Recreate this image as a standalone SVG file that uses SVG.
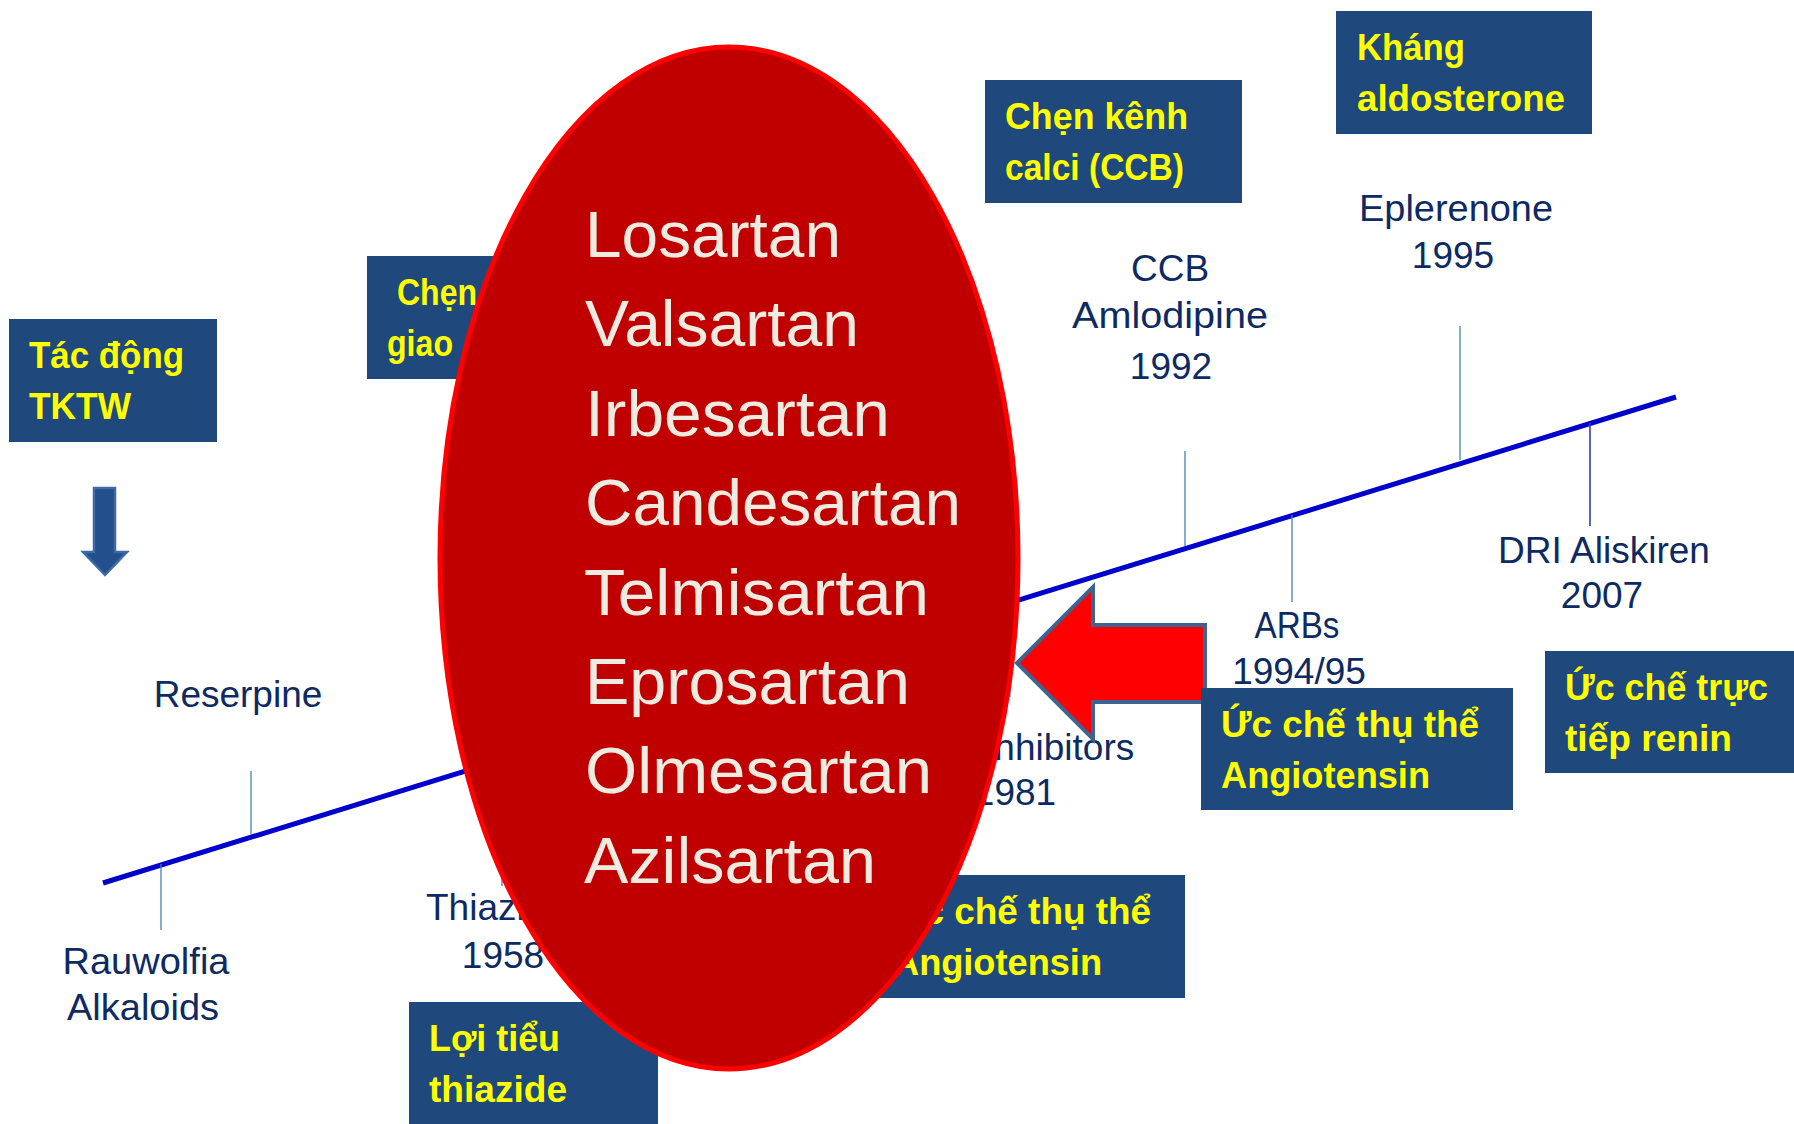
<svg xmlns="http://www.w3.org/2000/svg" width="1794" height="1124" viewBox="0 0 1794 1124">
<style>
.bx{fill:#1F497D}
.bt{font-family:"Liberation Sans Narrow","Liberation Sans",Arial,sans-serif;font-weight:bold;font-size:36px;fill:#FFFF00}
.lt{font-family:"Liberation Sans",Arial,sans-serif;font-size:37px;fill:#0E2A63;text-anchor:middle}
.el{font-family:"Liberation Sans",Arial,sans-serif;font-size:65px;fill:#EEECE1}
.tk{stroke:#4A7EBB;stroke-width:1.3}
</style>
<rect width="1794" height="1124" fill="#FFFFFF"/>

<g id="connectors">
  <line x1="103" y1="883" x2="1676" y2="397" stroke="#0000CC" stroke-width="5"/>
  <line class="tk" x1="161" y1="864" x2="161" y2="930"/>
  <line class="tk" x1="251" y1="771" x2="251" y2="834"/>
  <line class="tk" x1="502" y1="760" x2="502" y2="886"/>
  <line class="tk" x1="1010" y1="602" x2="1010" y2="697"/>
  <line class="tk" x1="1185" y1="451" x2="1185" y2="546"/>
  <line class="tk" x1="1292" y1="515" x2="1292" y2="602"/>
  <line class="tk" x1="1460" y1="326" x2="1460" y2="460"/>
  <line x1="1590" y1="423" x2="1590" y2="526" stroke="#3040A0" stroke-width="1.6"/>
  <polygon id="down-arrow" points="94,488 115,488 115,552 127,552 105,575 83,552 94,552" fill="#23508C" stroke="#3F6AA6" stroke-width="2.5"/>
</g>

<g id="labels">
  <g id="reserpine"><text class="lt" x="238" y="707">Reserpine</text></g>
  <g id="rauwolfia"><text class="lt" x="146" y="974" textLength="167" lengthAdjust="spacingAndGlyphs">Rauwolfia</text><text class="lt" x="143" y="1020" textLength="152" lengthAdjust="spacingAndGlyphs">Alkaloids</text></g>
  <g id="thiazide"><text class="lt" x="426" y="920" style="text-anchor:start">Thiazide</text><text class="lt" x="503" y="968">1958</text></g>
  <g id="ace"><text class="lt" x="1017" y="760">ACE inhibitors</text><text class="lt" x="1015" y="805">1981</text></g>
  <g id="ccb"><text class="lt" x="1170" y="281">CCB</text><text class="lt" x="1170" y="328" textLength="196" lengthAdjust="spacingAndGlyphs">Amlodipine</text><text class="lt" x="1171" y="379">1992</text></g>
  <g id="eplerenone"><text class="lt" x="1456" y="221" textLength="194" lengthAdjust="spacingAndGlyphs">Eplerenone</text><text class="lt" x="1453" y="268">1995</text></g>
  <g id="arbs"><text class="lt" x="1297" y="638" textLength="85" lengthAdjust="spacingAndGlyphs">ARBs</text><text class="lt" x="1299" y="684">1994/95</text></g>
  <g id="dri"><text class="lt" x="1604" y="563">DRI Aliskiren</text><text class="lt" x="1602" y="608">2007</text></g>
</g>

<g id="box-tktw"><rect class="bx" x="9" y="319" width="208" height="123"/>
  <text class="bt" x="29" y="368" textLength="155" lengthAdjust="spacingAndGlyphs">Tác động</text>
  <text class="bt" x="29" y="419" textLength="102" lengthAdjust="spacingAndGlyphs">TKTW</text></g>
<g id="box-chen-giao"><rect class="bx" x="367" y="256" width="250" height="123"/>
  <text class="bt" x="397" y="305" textLength="80" lengthAdjust="spacingAndGlyphs">Chẹn</text>
  <text class="bt" x="387" y="356" textLength="66" lengthAdjust="spacingAndGlyphs">giao</text></g>
<g id="box-ccb"><rect class="bx" x="985" y="80" width="257" height="123"/>
  <text class="bt" x="1005" y="129" textLength="183" lengthAdjust="spacingAndGlyphs">Chẹn kênh</text>
  <text class="bt" x="1005" y="180" textLength="179" lengthAdjust="spacingAndGlyphs">calci (CCB)</text></g>
<g id="box-aldosterone"><rect class="bx" x="1336" y="11" width="256" height="123"/>
  <text class="bt" x="1357" y="60" textLength="108" lengthAdjust="spacingAndGlyphs">Kháng</text>
  <text class="bt" x="1357" y="111" textLength="208" lengthAdjust="spacingAndGlyphs">aldosterone</text></g>
<g id="box-renin"><rect class="bx" x="1545" y="651" width="249" height="122"/>
  <text class="bt" x="1565" y="700" textLength="203" lengthAdjust="spacingAndGlyphs">Ức chế trực</text>
  <text class="bt" x="1565" y="751" textLength="167" lengthAdjust="spacingAndGlyphs">tiếp renin</text></g>
<g id="box-arb-bottom"><rect class="bx" x="872" y="875" width="313" height="123"/>
  <text class="bt" x="893" y="924" textLength="258" lengthAdjust="spacingAndGlyphs">Ức chế thụ thể</text>
  <text class="bt" x="893" y="975" textLength="209" lengthAdjust="spacingAndGlyphs">Angiotensin</text></g>
<g id="box-thiazide"><rect class="bx" x="409" y="1002" width="249" height="122"/>
  <text class="bt" x="429" y="1051" textLength="131" lengthAdjust="spacingAndGlyphs">Lợi tiểu</text>
  <text class="bt" x="429" y="1102" textLength="138" lengthAdjust="spacingAndGlyphs">thiazide</text></g>

<g id="sartans">
  <ellipse cx="729" cy="558" rx="289" ry="511" fill="#C00000" stroke="#FF0000" stroke-width="5"/>
  <text class="el" x="585" y="257" textLength="256" lengthAdjust="spacingAndGlyphs">Losartan</text>
  <text class="el" x="585" y="346" textLength="274" lengthAdjust="spacingAndGlyphs">Valsartan</text>
  <text class="el" x="585" y="436" textLength="305" lengthAdjust="spacingAndGlyphs">Irbesartan</text>
  <text class="el" x="585" y="525" textLength="376" lengthAdjust="spacingAndGlyphs">Candesartan</text>
  <text class="el" x="584" y="615" textLength="345" lengthAdjust="spacingAndGlyphs">Telmisartan</text>
  <text class="el" x="585" y="704" textLength="325" lengthAdjust="spacingAndGlyphs">Eprosartan</text>
  <text class="el" x="585" y="793" textLength="347" lengthAdjust="spacingAndGlyphs">Olmesartan</text>
  <text class="el" x="584" y="883" textLength="292" lengthAdjust="spacingAndGlyphs">Azilsartan</text>
</g>

<g id="red-arrow">
  <polygon points="1017,663 1093,587 1093,625 1205,625 1205,702 1093,702 1093,739" fill="#FF0000" stroke="#3F6391" stroke-width="4" stroke-linejoin="miter"/>
</g>

<g id="box-arb-right"><rect class="bx" x="1201" y="688" width="312" height="122"/>
  <text class="bt" x="1221" y="737" textLength="258" lengthAdjust="spacingAndGlyphs">Ức chế thụ thể</text>
  <text class="bt" x="1221" y="788" textLength="209" lengthAdjust="spacingAndGlyphs">Angiotensin</text></g>
</svg>
